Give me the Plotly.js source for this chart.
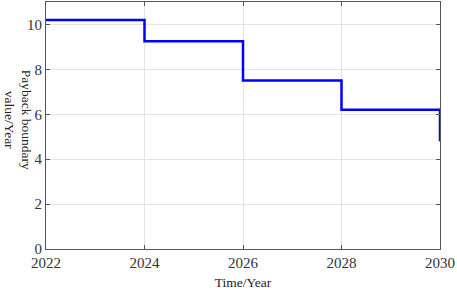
<!DOCTYPE html>
<html><head><meta charset="utf-8">
<script src="https://cdn.plot.ly/plotly-3.0.1.min.js"></script>
<style>html,body{margin:0;padding:0;background:#fff}#chart{width:457px;height:290px}</style>
</head><body><div id="chart"></div>
<script>
const years = [2022, 2024, 2026, 2028, 2030];
const payback = [10.2, 9.25, 7.5, 6.2, 4.8];
const xTicks = [2022, 2024, 2026, 2028, 2030];
const yTicks = [0, 2, 4, 6, 8, 10];

const font = 'Liberation Serif, Times New Roman, serif';
const axisCommon = {
  showline: true, linecolor: '#555', linewidth: 1, mirror: 'ticks',
  ticks: 'inside', ticklen: 4, tickcolor: '#555',
  showgrid: true, gridcolor: '#e3e3e3', gridwidth: 1, zeroline: false,
  tickfont: {family: font, size: 15, color: '#333'}
};
Plotly.newPlot('chart', [{
  x: years, y: payback, type: 'scatter', mode: 'lines',
  line: {shape: 'hv', color: '#0000ff', width: 2.5}, hoverinfo: 'none'
}], {
  width: 457, height: 290,
  margin: {l: 46, r: 17, t: 2, b: 41},
  paper_bgcolor: '#fff', plot_bgcolor: '#fff', showlegend: false,
  xaxis: Object.assign({}, axisCommon, {range: [2022, 2030], tickvals: xTicks,
    title: {text: 'Time/Year', font: {family: font, size: 13.5, color: '#222'}, standoff: 7}}),
  yaxis: Object.assign({}, axisCommon, {range: [0, 11], tickvals: yTicks}),
  annotations: [{
    text: 'Payback boundary<br>value/Year', textangle: 90,
    xref: 'paper', yref: 'paper', x: -0.07, y: 0.522,
    xanchor: 'center', yanchor: 'middle', showarrow: false,
    font: {family: font, size: 13.5, color: '#222'}
  }]
}, {staticPlot: true});
</script></body></html>
